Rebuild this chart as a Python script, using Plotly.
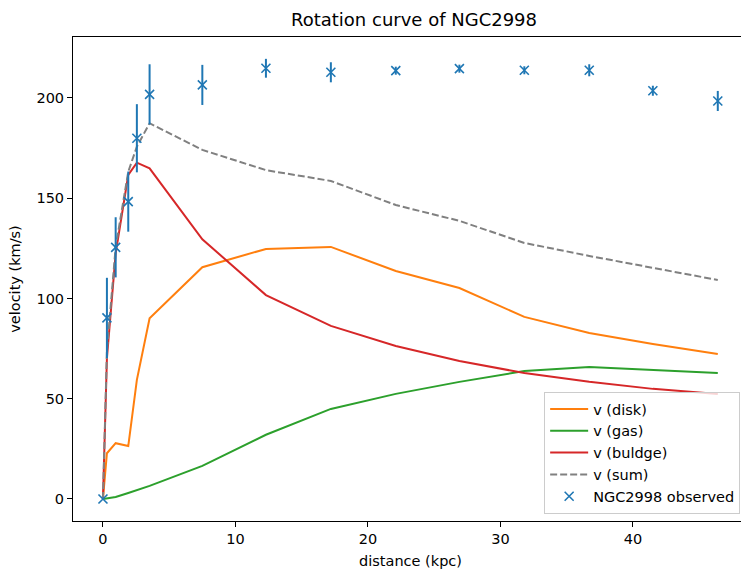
import plotly.graph_objects as go

# distances (kpc)
radius = [0.0, 0.3, 0.96, 1.91, 2.56, 3.52, 7.5, 12.3, 17.2, 22.1, 26.9, 31.8, 36.7, 41.5, 46.4]

# observed rotation velocity and errors (km/s)
v_obs = [0.0, 90.3, 125.5, 148.3, 179.9, 201.8, 206.5, 214.8, 212.8, 213.6, 214.6, 213.8, 213.8, 203.6, 198.5]
v_err = [0.0, 20.0, 15.0, 15.0, 17.0, 15.0, 10.0, 4.7, 5.0, 2.0, 2.0, 2.0, 3.0, 2.5, 5.0]

# model components (km/s)
v_disk = [0.0, 22.8, 27.8, 26.4, 59.4, 90.1, 115.6, 124.7, 125.7, 113.7, 105.2, 90.8, 82.8, 77.3, 72.3]
v_gas = [0.0, 0.3, 1.0, 3.0, 4.5, 6.5, 16.5, 32.0, 44.9, 52.4, 58.4, 63.8, 65.8, 64.3, 62.8]
v_bulge = [0.0, 70.2, 122.5, 161.6, 167.7, 164.9, 129.5, 101.7, 86.3, 76.3, 68.8, 62.8, 58.4, 54.9, 52.4]
v_sum = [0.0, 73.8, 125.6, 163.2, 175.7, 187.4, 174.1, 164.0, 158.6, 146.6, 138.7, 127.7, 121.2, 115.2, 109.2]

x_ticks = [0, 10, 20, 30, 40]
y_ticks = [0, 50, 100, 150, 200]

FONT = "DejaVu Sans"
FS = 14.5

fig = go.Figure()
fig.add_trace(go.Scatter(x=radius, y=v_disk, mode="lines", name="v (disk)",
                         line=dict(color="#ff7f0e", width=2)))
fig.add_trace(go.Scatter(x=radius, y=v_gas, mode="lines", name="v (gas)",
                         line=dict(color="#2ca02c", width=2)))
fig.add_trace(go.Scatter(x=radius, y=v_bulge, mode="lines", name="v (buldge)",
                         line=dict(color="#d62728", width=2)))
fig.add_trace(go.Scatter(x=radius, y=v_sum, mode="lines", name="v (sum)",
                         line=dict(color="#808080", width=2, dash="7px,3px")))
fig.add_trace(go.Scatter(x=radius, y=v_obs, mode="markers", name="NGC2998 observed",
                         marker=dict(symbol="x-thin", size=9, color="#1f77b4",
                                     line=dict(color="#1f77b4", width=1.6)),
                         error_y=dict(type="data", array=v_err, visible=True,
                                      color="#1f77b4", thickness=2, width=0)))

fig.update_layout(
    width=748, height=570,
    margin=dict(l=73, r=0, t=37, b=49, autoexpand=False),
    paper_bgcolor="white", plot_bgcolor="white",
    font=dict(family=FONT, size=FS, color="black"),
    title=dict(text="Rotation curve of NGC2998", x=0.5535, xanchor="center",
               y=1 - 20 / 570, yanchor="middle", font=dict(family=FONT, size=18, color="black")),
    showlegend=True,
    legend=dict(x=0.698, y=0.0145, xanchor="left", yanchor="bottom", itemwidth=38,
                bgcolor="rgba(255,255,255,0.8)", bordercolor="#cccccc", borderwidth=1,
                font=dict(family=FONT, size=FS, color="black")),
)
fig.update_xaxes(range=[-2.26, 48.68], tickvals=x_ticks, ticks="outside", ticklen=5,
                 tickcolor="black", showgrid=False, zeroline=False, showline=True,
                 linecolor="black", linewidth=1, mirror=True, automargin=False,
                 title=dict(text="distance (kpc)", standoff=9,
                            font=dict(family=FONT, size=FS)))
fig.update_yaxes(range=[-11, 230.4], tickvals=y_ticks, ticks="outside", ticklen=5,
                 tickcolor="black", showgrid=False, zeroline=False, showline=True,
                 linecolor="black", linewidth=1, mirror=False, automargin=False,
                 title=dict(text="velocity (km/s)", standoff=12,
                            font=dict(family=FONT, size=FS)))

fig.write_html(
    "out.html",
    config={"displayModeBar": False},
    post_script="document.body.style.margin='0';document.body.style.overflow='hidden';",
)
